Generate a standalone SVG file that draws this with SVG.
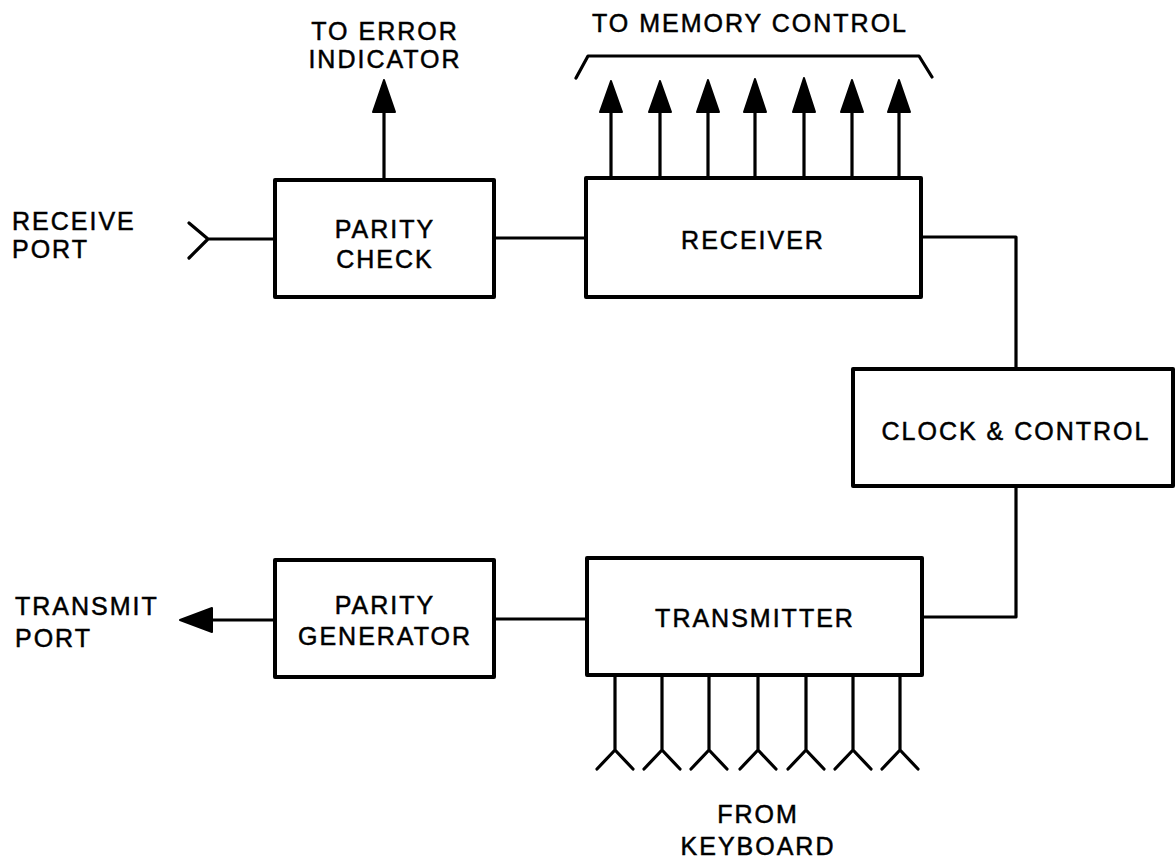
<svg xmlns="http://www.w3.org/2000/svg" width="1176" height="868" viewBox="0 0 1176 868">
<style>
.box{fill:#fff;stroke:#000;stroke-width:4;stroke-linejoin:round}
.ln{fill:none;stroke:#000;stroke-width:3.2;stroke-linecap:round;stroke-linejoin:round}
.ah{fill:#000;stroke:#000;stroke-width:2;stroke-linejoin:round}
text{font-family:"Liberation Sans",Arial,sans-serif;font-size:25px;letter-spacing:2px;fill:#000;stroke:#000;stroke-width:0.5}
.m{text-anchor:middle}
</style>
<rect width="1176" height="868" fill="#fff"/>
<g id="connectors">
  <path class="ln" d="M189,223 L208,239 L189,258 M208,239 L275,239"/>
  <path class="ln" d="M494,238 L586,238"/>
  <path class="ln" d="M384,180 L384,110"/>
  <polygon class="ah" points="384,80 373,112 395,112"/>
  <path class="ln" d="M921,237 L1016,237 L1016,369"/>
  <path class="ln" d="M1016,486 L1016,617 L922,617"/>
  <path class="ln" d="M587,619 L494,619"/>
  <path class="ln" d="M275,620 L210,620"/>
  <polygon class="ah" points="180,620 212,608 212,632"/>
  <path class="ln" d="M576,78 L588,56 L919,56 L932,77"/>
  <g id="mem-arrows">
    <path class="ln" d="M611,178 V110 M660,178 V110 M708,178 V110 M755,178 V110 M804,178 V110 M852,178 V110 M899,178 V110"/>
    <polygon class="ah" points="611,81 600,112 622,112"/>
    <polygon class="ah" points="660,81 649,112 671,112"/>
    <polygon class="ah" points="708,80 697,112 719,112"/>
    <polygon class="ah" points="755,79 744,112 766,112"/>
    <polygon class="ah" points="804,78 793,112 815,112"/>
    <polygon class="ah" points="852,80 841,112 863,112"/>
    <polygon class="ah" points="899,80 888,112 910,112"/>
  </g>
  <g id="kbd-inputs">
    <path class="ln" d="M615,675 V750 M597,769 L615,750 L633,769"/>
    <path class="ln" d="M662,675 V750 M644,769 L662,750 L680,769"/>
    <path class="ln" d="M709,675 V750 M691,769 L709,750 L727,769"/>
    <path class="ln" d="M758,675 V750 M740,769 L758,750 L776,769"/>
    <path class="ln" d="M806,675 V750 M788,769 L806,750 L824,769"/>
    <path class="ln" d="M853,675 V750 M835,769 L853,750 L871,769"/>
    <path class="ln" d="M900,675 V750 M882,769 L900,750 L918,769"/>
  </g>
</g>
<g id="parity-check">
  <rect class="box" x="275" y="180" width="219" height="117"/>
  <text class="m" x="385" y="238">PARITY</text>
  <text class="m" x="385" y="268">CHECK</text>
</g>
<g id="receiver">
  <rect class="box" x="586" y="178" width="335" height="119"/>
  <text class="m" x="753" y="249">RECEIVER</text>
</g>
<g id="clock-control">
  <rect class="box" x="853" y="369" width="320" height="117"/>
  <text class="m" x="1016" y="440">CLOCK &amp; CONTROL</text>
</g>
<g id="transmitter">
  <rect class="box" x="587" y="558" width="335" height="117"/>
  <text class="m" x="755" y="627">TRANSMITTER</text>
</g>
<g id="parity-generator">
  <rect class="box" x="275" y="560" width="219" height="117"/>
  <text class="m" x="385" y="614">PARITY</text>
  <text class="m" x="385" y="645">GENERATOR</text>
</g>
<g id="labels">
  <text class="m" x="385" y="40">TO ERROR</text>
  <text class="m" x="385" y="68">INDICATOR</text>
  <text class="m" x="750" y="32">TO MEMORY CONTROL</text>
  <text x="12" y="230">RECEIVE</text>
  <text x="12" y="258">PORT</text>
  <text x="15" y="615">TRANSMIT</text>
  <text x="15" y="647">PORT</text>
  <text class="m" x="758" y="823">FROM</text>
  <text class="m" x="758" y="855">KEYBOARD</text>
</g>
</svg>
